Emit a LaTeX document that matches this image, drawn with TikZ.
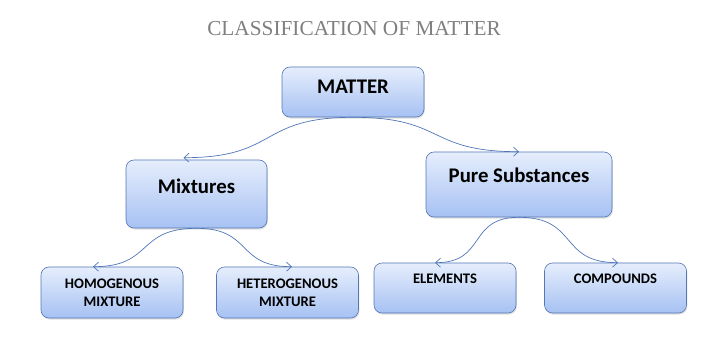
\documentclass[tikz,border=0pt]{standalone}
\usepackage{fontspec}
\setmainfont{Carlito}
\newfontfamily\titlefont{Liberation Serif}
\usetikzlibrary{shadows,arrows.meta}
\definecolor{BoxTop}{HTML}{E6EEFC}
\definecolor{BoxBottom}{HTML}{A6C1F3}
\definecolor{BoxEdge}{HTML}{5577B5}
\definecolor{LinkBlue}{HTML}{4F76B8}
\definecolor{TitleGray}{HTML}{7F7F7F}

\begin{document}
\begin{tikzpicture}[x=1pt,y=-1pt,
  box/.style={draw=BoxEdge,line width=0.6pt,rounded corners=8pt,
    top color=BoxTop,bottom color=BoxBottom,align=center,
    drop shadow={shadow xshift=0.8pt,shadow yshift=-1.6pt,opacity=0.25}},
  bigbox/.style={box,font=\bfseries\fontsize{20.8}{24}\selectfont,text height=13.4pt,text depth=#1},
  smallbox/.style={box,font=\bfseries\fontsize{14.6}{18}\selectfont,minimum width=142pt,minimum height=51pt},
  link/.style={draw=LinkBlue,line width=0.7pt,looseness=1.4,-{Straight Barb[length=5pt,width=9pt]}}]
\useasboundingbox (0,0) rectangle (727,344);
\node[font=\titlefont\fontsize{21.3}{24}\selectfont,text=TitleGray] (title) at (354,29) {CLASSIFICATION OF MATTER};

% upper level
\node[bigbox=10pt,minimum width=142pt,minimum height=50pt] (matter) at (353,92) {MATTER};
\node[bigbox=14pt,minimum width=141pt,minimum height=68pt] (mix) at (196.5,194) {Mixtures};
\node[bigbox=17pt,minimum width=186pt,minimum height=65pt] (pure) at (519,184.5) {Pure Substances};

% lower level
\node[smallbox] (homo) at (112,292.5) {HOMOGENOUS\\MIXTURE};
\node[smallbox] (hetero) at (287.5,292.5) {HETEROGENOUS\\MIXTURE};
\node[smallbox,minimum height=50pt,text height=9.4pt,text depth=18pt] (elem) at (445,288) {ELEMENTS};
\node[smallbox,minimum height=50pt,text height=9.4pt,text depth=18pt] (comp) at (615.5,288) {COMPOUNDS};

\draw[link] (matter.south) to[out=180,in=0] ([shift={(-13,-2)}]mix.north);
\draw[link] (matter.south) to[out=0,in=180] (pure.north);
\draw[link] (mix.south) to[out=180,in=0] ([xshift=-19pt]homo.north);
\draw[link] (mix.south) to[out=0,in=180] ([xshift=4.5pt]hetero.north);
\draw[link] (pure.south) to[out=180,in=0] ([xshift=-10pt]elem.north);
\draw[link] (pure.south) to[out=0,in=180] ([xshift=2.5pt]comp.north);
\end{tikzpicture}
\end{document}
